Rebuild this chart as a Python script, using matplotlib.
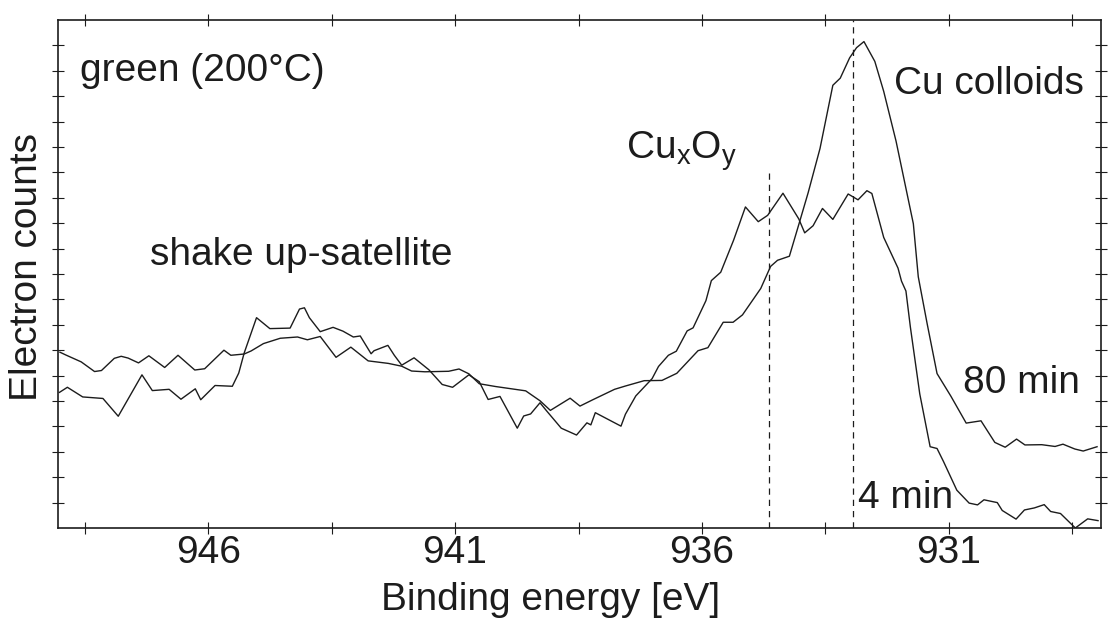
import matplotlib
matplotlib.use("Agg")
import matplotlib.pyplot as plt

plt.rcParams['font.family'] = ['Liberation Sans', 'DejaVu Sans']
plt.rcParams['mathtext.fontset'] = 'custom'
plt.rcParams['mathtext.rm'] = 'Liberation Sans'

# ---- data (binding energy in eV, counts in arbitrary units) ----
energy_4min = [949.01, 948.85, 948.54, 948.13, 947.82, 947.34, 947.13, 946.79, 946.55, 946.26,
               946.15, 945.86, 945.51, 945.38, 945.27, 945.02, 944.75, 944.34, 944.15, 944.05,
               943.95, 943.73, 943.47, 943.27, 943.06, 942.92, 942.70, 942.64, 942.36, 942.23,
               942.08, 941.83, 941.53, 941.26, 941.05, 940.72, 940.51, 940.33, 940.09, 939.74,
               939.61, 939.47, 939.28, 939.15, 938.85, 938.54, 938.33, 938.25, 938.16, 937.64,
               937.55, 937.34, 937.01, 936.88, 936.68, 936.52, 936.30, 936.18, 935.92, 935.81,
               935.62, 935.36, 935.12, 934.86, 934.67, 934.36, 934.04, 933.92, 933.75, 933.56,
               933.35, 933.04, 932.84, 932.66, 932.56, 932.32, 932.03, 931.96, 931.87, 931.78,
               931.59, 931.38, 931.24, 931.11, 930.84, 930.59, 930.42, 930.29, 930.02, 929.92,
               929.64, 929.47, 929.27, 929.07, 928.94, 928.74, 928.44, 928.19, 927.98]
counts_4min = [5.34, 5.54, 5.16, 5.10, 4.40, 6.03, 5.41, 5.46, 5.07, 5.48,
               5.05, 5.61, 5.58, 6.10, 6.89, 8.28, 7.85, 7.87, 8.62, 8.67,
               8.28, 7.73, 7.90, 7.75, 7.52, 7.56, 6.86, 6.98, 7.19, 6.80,
               6.41, 6.70, 6.23, 5.65, 5.54, 6.03, 5.76, 5.06, 5.18, 3.93,
               4.41, 4.49, 4.93, 4.62, 3.93, 3.66, 4.14, 4.06, 4.54, 4.01,
               4.48, 5.20, 5.88, 6.36, 6.80, 6.96, 7.76, 7.88, 8.95, 9.74,
               10.07, 11.33, 12.64, 12.06, 12.31, 13.18, 12.17, 11.62, 11.90, 12.58,
               12.15, 13.15, 12.92, 13.28, 13.17, 11.44, 10.23, 9.72, 9.33, 7.91,
               5.28, 3.20, 3.13, 2.62, 1.49, 0.98, 0.91, 1.11, 1.00, 0.69,
               0.35, 0.71, 0.79, 0.92, 0.65, 0.57, 0.00, 0.36, 0.29]

energy_80min = [949.00, 948.88, 948.57, 948.30, 948.16, 947.90, 947.76, 947.62, 947.41, 947.20,
                946.88, 946.61, 946.27, 946.07, 945.68, 945.54, 945.27, 945.13, 944.88, 944.54,
                944.19, 943.99, 943.73, 943.41, 943.11, 942.76, 942.35, 942.08, 941.88, 941.61,
                941.13, 940.92, 940.72, 940.51, 940.18, 939.57, 939.28, 939.07, 938.67, 938.47,
                938.21, 937.77, 937.55, 937.17, 936.81, 936.51, 936.08, 935.88, 935.57, 935.37,
                935.18, 934.81, 934.61, 934.47, 934.23, 934.03, 933.85, 933.61, 933.35, 933.20,
                933.01, 932.87, 932.72, 932.50, 932.32, 932.07, 931.72, 931.62, 931.44, 931.24,
                930.96, 930.65, 930.35, 930.07, 929.86, 929.63, 929.46, 929.12, 928.85, 928.69,
                928.45, 928.28, 928.00]
counts_80min = [6.92, 6.81, 6.54, 6.16, 6.20, 6.68, 6.76, 6.69, 6.50, 6.78,
                6.32, 6.80, 6.22, 6.27, 7.00, 6.80, 6.85, 6.97, 7.26, 7.47,
                7.52, 7.41, 7.54, 6.72, 7.12, 6.58, 6.48, 6.37, 6.18, 6.15,
                6.17, 6.26, 6.07, 5.68, 5.57, 5.40, 5.01, 4.63, 5.11, 4.80,
                5.05, 5.46, 5.59, 5.80, 5.81, 6.09, 6.98, 7.10, 8.10, 8.10,
                8.39, 9.43, 10.30, 10.54, 10.70, 12.01, 13.20, 14.94, 17.43, 17.71,
                18.51, 18.91, 19.15, 18.37, 17.19, 15.23, 11.98, 9.89, 8.04, 6.08,
                5.19, 4.13, 4.22, 3.37, 3.18, 3.50, 3.27, 3.28, 3.21, 3.30,
                3.11, 3.03, 3.20]

# reference lines: CuxOy and Cu colloids positions (eV) and their top heights
ref_energies = [934.65, 932.95]
ref_tops = [13.96, 20.0]

major_ticks = [946, 941, 936, 931]
minor_ticks = [948.5, 943.5, 938.5, 933.5, 928.5]
tick_labels = ['946', '941', '936', '931']

W, H = 1115, 621
fig = plt.figure(figsize=(W / 100, H / 100), dpi=100)
ax = fig.add_axes([58 / W, 93 / H, 1043 / W, 508 / H])

ink = '#1c1c1c'
ax.plot(energy_4min, counts_4min, color=ink, lw=1.0)
ax.plot(energy_80min, counts_80min, color=ink, lw=1.0)
for e, top in zip(ref_energies, ref_tops):
    ax.plot([e, e], [0, top], color=ink, lw=0.9, linestyle=(0, (5, 4)))

ax.set_xlim(949.04, 927.92)
ax.set_ylim(0, 20)

ax.set_xticks(major_ticks)
ax.set_xticklabels(tick_labels)
ax.set_xticks(minor_ticks, minor=True)
ax.set_yticks(range(1, 20))
ax.set_yticklabels([])

ax.tick_params(axis='both', which='both', direction='inout', length=8, width=0.8,
               top=True, right=True, colors=ink, labelsize=28, pad=1)
for s in ax.spines.values():
    s.set_linewidth(1.2)
    s.set_color(ink)

fs = 28
ax.text(948.59, 17.61, 'green (200°C)', fontsize=fs, ha='left', va='baseline', color=ink)
ax.text(947.17, 10.37, 'shake up-satellite', fontsize=fs, ha='left', va='baseline', color=ink)
ax.text(937.53, 14.53, r'Cu$_{\mathregular{x}}$O$_{\mathregular{y}}$', fontsize=fs,
        ha='left', va='baseline', color=ink)
ax.text(932.11, 17.08, 'Cu colloids', fontsize=fs, ha='left', va='baseline', color=ink)
ax.text(930.72, 5.31, '80 min', fontsize=fs, ha='left', va='baseline', color=ink)
ax.text(932.85, 0.79, '4 min', fontsize=fs, ha='left', va='baseline', color=ink)

fig.text(551 / W, 1 - 610 / H, 'Binding energy [eV]', fontsize=fs, ha='center',
         va='baseline', color=ink)
fig.text(27 / W, 1 - 267 / H, 'Electron counts', fontsize=fs, ha='center', va='center',
         rotation=90, color=ink)

fig.savefig('out.png', dpi=100)
